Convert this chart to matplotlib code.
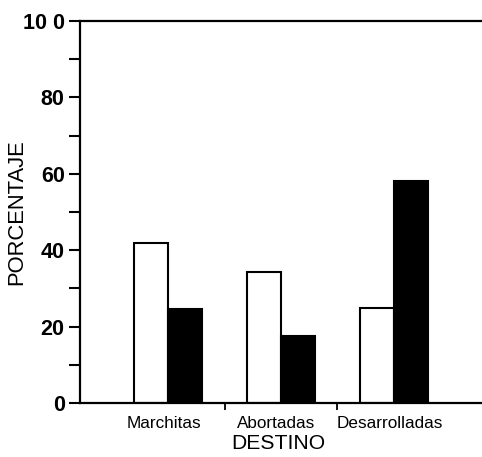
import numpy as np
import matplotlib
matplotlib.use("Agg")
import matplotlib.pyplot as plt

categorias = ["Marchitas", "Abortadas", "Desarrolladas"]
serie_blanca = [41.8, 34.2, 24.8]
serie_negra = [24.6, 17.6, 58.2]
yticks = [0, 20, 40, 60, 80, 100]
ytick_labels = ["0", "20", "40", "60", "80", "10 0"]

plt.rcParams["font.family"] = ["Liberation Sans", "DejaVu Sans"]

fig = plt.figure(figsize=(4.82, 4.57), dpi=100)
ax = fig.add_axes([80 / 482, 1 - 403 / 457, 1 - 80 / 482, (403 - 21) / 457])

x = np.arange(len(categorias))
ancho = 0.3
ax.bar(x - ancho / 2, serie_blanca, ancho, color="white", edgecolor="black", linewidth=1.5)
ax.bar(x + ancho / 2, serie_negra, ancho, color="black", edgecolor="black", linewidth=1.5)

ax.set_xlim(-0.78, 2.78)
ax.set_ylim(0, 100)

# separadores entre grupos
ax.set_xticks(x[:-1] + 0.5)
ax.set_xticklabels([])
ax.tick_params(axis="x", which="major", direction="out", length=5, width=1.3)
# nombres de categoria en minor ticks
ax.set_xticks(x - 0.04, minor=True)
ax.set_xticklabels(categorias, minor=True, fontsize=12.3)
ax.tick_params(axis="x", which="minor", length=0, pad=9)

ax.set_yticks(yticks)
ax.set_yticklabels(ytick_labels, fontsize=15.5, fontweight="bold")
ax.set_yticks(np.arange(10, 100, 20), minor=True)
ax.tick_params(axis="y", which="both", direction="out", length=8, width=1.5, pad=3)

for s in ["left", "bottom", "top"]:
    ax.spines[s].set_linewidth(1.6)
ax.spines["right"].set_visible(False)

ax.set_xlabel("DESTINO", fontsize=15.2)
ax.xaxis.set_label_coords(0.494, -0.08)
ax.set_ylabel("PORCENTAJE", fontsize=15.8)
ax.yaxis.set_label_coords(-0.13, 0.5)

fig.savefig("out.png", dpi=100)
